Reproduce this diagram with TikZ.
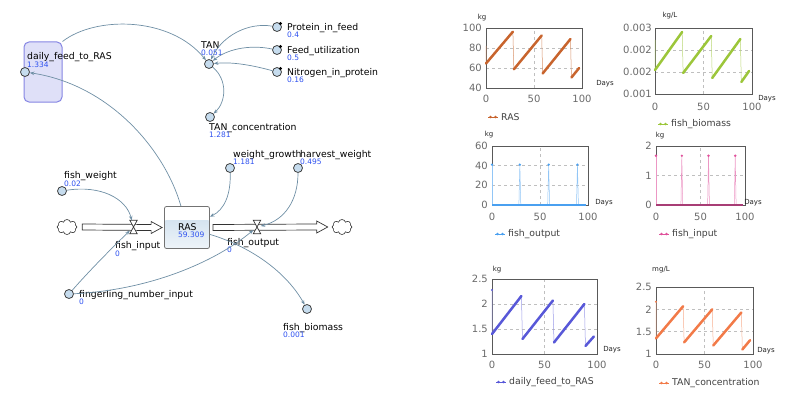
\documentclass[tikz,border=0pt]{standalone}
\usepackage{fontspec}
\setmainfont{DejaVu Sans}
\usetikzlibrary{arrows.meta,calc,shapes.symbols}

\definecolor{linkcol}{HTML}{6F8FA5}
\definecolor{valblue}{HTML}{2F52F0}
\definecolor{varfill}{HTML}{C6DCEE}
\definecolor{boxfill}{HTML}{DFE0F8}
\definecolor{boxline}{HTML}{8585E3}
\definecolor{stocktop}{HTML}{C9DCEC}
\definecolor{stockbot}{HTML}{EEF4F9}
\definecolor{rascol}{HTML}{C8642D}
\definecolor{biocol}{HTML}{9CC63A}
\definecolor{outcol}{HTML}{4AA0F0}
\definecolor{incol}{HTML}{E0529C}
\definecolor{feedcol}{HTML}{5858D8}
\definecolor{tancol}{HTML}{F27A48}
\definecolor{ticktxt}{HTML}{6A6A6A}

\newcommand{\val}[1]{{\color{valblue}\fontsize{7.5}{7.3}\selectfont #1}}

\begin{document}
\begin{tikzpicture}[x=1pt,y=-1pt,font=\fontsize{9.3}{11}\selectfont,
  var/.style={circle,draw=black!75,fill=varfill,line width=0.8pt,minimum size=9pt,inner sep=0pt},
  vlabel/.style={anchor=north west,align=left,inner sep=0pt,
    font={\fontsize{9.3}{7.3}\selectfont\lineskiplimit=-10pt}},
  link/.style={linkcol,line width=0.7pt,-{Stealth[length=4.5pt,width=3.5pt]}},
  valve/.style={minimum width=7pt,minimum height=13pt,inner sep=0pt},
  pipe/.style={draw=black!80,fill=white,line width=0.7pt},
  cloudy/.style={cloud,cloud puffs=8,cloud ignores aspect,draw=black!80,line width=0.6pt,
    minimum width=20pt,minimum height=15pt,inner sep=0pt},
  grid/.style={black!25,dashed,line width=0.5pt},
  frame/.style={black!65,line width=0.8pt},
  tick/.style={ticktxt,font=\fontsize{10}{10}\selectfont,inner sep=0pt},
  unit/.style={black!85,font=\fontsize{7}{7}\selectfont,inner sep=0pt},
  legend/.style={black!75,font=\fontsize{9.3}{9}\selectfont,anchor=west,inner sep=0pt},
  rise/.style={line width=2.5pt,line cap=round},
  drop/.style={line width=0.5pt}]
  \useasboundingbox (0,0) rectangle (800,396);
  % Stock and flow model on the left, the six result charts on the right.
  % Units are pixels of the 800x396 layout, y grows downwards.

  % container round daily_feed_to_RAS
  \node[draw=boxline,fill=boxfill,rounded corners=5pt,line width=1pt,
    minimum width=38pt,minimum height=60pt] (dfrbox) at (43,72) {};

  % variables
  \node[var] (dfr) at (25,72) {};
  \node[var] (tan) at (209,64) {};
  \node[var] (pif) at (277,27) {};
  \node[var] (fu) at (277,50) {};
  \node[var] (nip) at (277,72) {};
  \node[var] (tanc) at (210,117) {};
  \node[var] (wg) at (230,168) {};
  \node[var] (hw) at (298,168) {};
  \node[var] (fw) at (62,191) {};
  \node[var] (fni) at (69,294) {};
  \node[var] (fb) at (307,309) {};
  \foreach \c in {pif,fu,nip} {
    \fill (\c.north east) circle (1.7pt);
  }

  \node[vlabel] (dfrL) at (27,52.5) {daily\_feed\_to\_RAS\\\val{1.334}};
  \node[vlabel] (tanL) at (201,41.5) {TAN\\\val{0.051}};
  \node[vlabel] (pifL) at (287,23) {Protein\_in\_feed\\\val{0.4}};
  \node[vlabel] (fuL) at (287,46) {Feed\_utilization\\\val{0.5}};
  \node[vlabel] (nipL) at (287,68) {Nitrogen\_in\_protein\\\val{0.16}};
  \node[vlabel] (tancL) at (209,123) {TAN\_concentration\\\val{1.281}};
  \node[vlabel] (wgL) at (233,150) {weight\_growth\\\val{1.181}};
  \node[vlabel] (hwL) at (300,150) {harvest\_weight\\\val{0.495}};
  \node[vlabel] (fwL) at (64,171.5) {fish\_weight\\\val{0.02}};
  \node[vlabel] (fniL) at (79,290) {fingerling\_number\_input\\\val{0}};
  \node[vlabel] (fbL) at (283,323) {fish\_biomass\\\val{0.001}};

  % stock, clouds and the two flows
  \node[draw=black!55,rounded corners=2pt,line width=0.8pt,minimum width=45pt,
    minimum height=42pt,inner sep=0pt,
    path picture={\shade[top color=stocktop,bottom color=stockbot]
      ([yshift=7.5pt]path picture bounding box.west)
      rectangle (path picture bounding box.south east);}] (ras) at (187,227.5) {};
  \node[vlabel] (rasL) at (178,223) {RAS\\\val{59.309}};
  \node[cloudy] (cl) at (67,227) {};
  \node[cloudy] (cr) at (342,227) {};
  \node[valve] (fiv) at (133.5,227) {};
  \node[valve] (fov) at (257,227) {};

  \draw[pipe] ($(cl.east)+(5,-3)$) -- ($(ras.west)+(-13,-3)$) -- ($(ras.west)+(-13,-6)$)
    -- ($(ras.west)+(-2,0)$) -- ($(ras.west)+(-13,6)$) -- ($(ras.west)+(-13,3)$)
    -- ($(cl.east)+(5,3)$) -- cycle;
  \draw[pipe] ($(ras.east)+(3,-3)$) -- ($(cr.west)+(-15,-3)$) -- ($(cr.west)+(-15,-6)$)
    -- ($(cr.west)+(-4,0)$) -- ($(cr.west)+(-15,6)$) -- ($(cr.west)+(-15,3)$)
    -- ($(ras.east)+(3,3)$) -- cycle;
  \foreach \v in {fiv,fov} {
    \draw[pipe] (\v.north west) -- (\v.north east) -- (\v.south west) -- (\v.south east) -- cycle;
  }
  \node[vlabel] (fivL) at (115,241.5) {fish\_input\\\val{0}};
  \node[vlabel] (fovL) at (227,238) {fish\_output\\\val{0}};

  % links
  \draw[link] (dfrbox.north east) .. controls (95,16) and (170,16) .. (tan);
  \draw[link] (pif) .. controls (248,22) and (222,36) .. (tan);
  \draw[link] (fu) .. controls (248,44) and (226,50) .. (tan);
  \draw[link] (nip) .. controls (248,64) and (230,62) .. (tan);
  \draw[link] (tan) .. controls (228,80) and (226,102) .. (tanc);
  \draw[link] (ras) .. controls (165,150) and (110,85) .. (dfr);
  \draw[link] (fw) .. controls (100,185) and (126,198) .. (fiv);
  \draw[link] (wg) .. controls (231,195) and (224,210) .. (ras);
  \draw[link] (hw) .. controls (298,200) and (285,220) .. (fov);
  \draw[link] (fni) .. controls (90,270) and (112,248) .. (fiv);
  \draw[link] (fni) .. controls (150,290) and (215,262) .. (fov);
  \draw[link] (ras) .. controls (255,248) and (288,275) .. (fb);

  % chart: RAS (kg)
  \begin{scope}[shift={(486,88)},x=0.96pt,y=1pt]
    \draw[grid] (50,0) -- (50,60);
    \foreach \v in {20,40} \draw[grid] (0,\v) -- (100,\v);
    \draw[frame] (0,0) rectangle (100,60);
    \foreach \t in {0,50,100} \node[tick] (ras-x\t) at ([yshift=-11pt]\t,0) {\t};
    \foreach \v/\l in {0/40,20/60,40/80,60/100}
      \node[tick,anchor=east] (ras-y\l) at ([xshift=-4pt]0,\v) {\l};
    \draw[rascol!70,drop] (0,42) -- (0,24.5) (28,56.3) -- (29,18.7) (58,52.5) -- (59,14.5)
      (88,49) -- (89,10.5);
    \draw[rascol,rise] (0,24.5) -- (28,56.3) (29,18.7) -- (58,52.5) (59,14.5) -- (88,49)
      (89,10.5) -- (97,20);
  \end{scope}

  % chart: fish_biomass (kg/L)
  \begin{scope}[shift={(655,94)},x=0.97pt,y=33pt]
    \draw[grid] (50,0) -- (50,2);
    \foreach \v in {0.667,1.333} \draw[grid] (0,\v) -- (100,\v);
    \draw[frame] (0,0) rectangle (100,2);
    \foreach \t in {0,50,100} \node[tick] (bio-x\t) at ([yshift=-13pt]\t,0) {\t};
    \foreach \v/\l [count=\i] in {0/0.001,0.667/0.002,1.333/0.002,2/0.003}
      \node[tick,anchor=east] (bio-y\i) at ([xshift=-3pt]0,\v) {\l};
    \draw[biocol!70,drop] (0,1.64) -- (0,0.727) (28,1.879) -- (29,0.636) (58,1.758) -- (59,0.485)
      (88,1.667) -- (89,0.364);
    \draw[biocol,rise] (0,0.727) -- (28,1.879) (29,0.636) -- (58,1.758) (59,0.485) -- (88,1.667)
      (89,0.364) -- (97,0.697);
  \end{scope}

  % chart: fish_output (kg)
  \begin{scope}[shift={(492,205)},x=0.96pt,y=0.983pt]
    \draw[grid] (50,0) -- (50,60);
    \foreach \v in {20,40} \draw[grid] (0,\v) -- (100,\v);
    \draw[frame] (0,0) rectangle (100,60);
    \foreach \t in {0,50,100} \node[tick] (out-x\t) at ([yshift=-12pt]\t,0) {\t};
    \foreach \v in {0,20,40,60}
      \node[tick,anchor=east] (out-y\v) at ([xshift=-4pt]0,\v) {\v};
    \draw[outcol!60,drop] (0,0) -- (0,41);
    \foreach \t in {29,59,89} \draw[outcol!60,drop] (\t-1,0) -- (\t,41) -- (\t+1,0);
    \foreach \t in {0,29,59,89} \fill[outcol] (\t,41) circle (1.3pt);
    \draw[outcol,line width=1.8pt] (0,0) -- (98,0);
  \end{scope}

  % chart: fish_input (kg)
  \begin{scope}[shift={(656,205)},x=0.89pt,y=29.5pt]
    \draw[grid] (50,0) -- (50,2);
    \draw[grid] (0,1) -- (100,1);
    \draw[frame] (0,0) rectangle (100,2);
    \foreach \t in {0,50,100} \node[tick] (in-x\t) at ([yshift=-12pt]\t,0) {\t};
    \foreach \v in {0,1,2}
      \node[tick,anchor=east] (in-y\v) at ([xshift=-4pt]0,\v) {\v};
    \draw[incol!60,drop] (0,0) -- (0,1.67);
    \foreach \t in {29,59,89} \draw[incol!60,drop] (\t-1,0) -- (\t,1.67) -- (\t+1,0);
    \foreach \t in {0,29,59,89} \fill[incol] (\t,1.67) circle (1.3pt);
    \draw[incol!75!black,line width=1.8pt] (0,0) -- (98,0);
  \end{scope}

  % chart: daily_feed_to_RAS (kg)
  \begin{scope}[shift={(492,354)},x=1.05pt,y=50pt]
    \draw[grid] (50,0) -- (50,1.5);
    \foreach \v in {0.5,1} \draw[grid] (0,\v) -- (100,\v);
    \draw[frame] (0,0) rectangle (100,1.5);
    \foreach \t in {0,50,100} \node[tick] (feed-x\t) at ([yshift=-11pt]\t,0) {\t};
    \foreach \v/\l [count=\i] in {0/1,0.5/1.5,1/2,1.5/2.5}
      \node[tick,anchor=east] (feed-y\i) at ([xshift=-4pt]0,\v) {\l};
    \fill[feedcol] (0,1.28) circle (1.2pt);
    \draw[feedcol!60,drop] (0,1.28) -- (0,0.4) (28,1.16) -- (29,0.3) (58,1.07) -- (59,0.23)
      (88,1.0) -- (89,0.16);
    \draw[feedcol,rise] (0,0.4) -- (28,1.16) (29,0.3) -- (58,1.07) (59,0.23) -- (88,1.0)
      (89,0.16) -- (97,0.35);
  \end{scope}

  % chart: TAN_concentration (mg/L)
  \begin{scope}[shift={(656,354)},x=0.97pt,y=44.67pt]
    \draw[grid] (50,0) -- (50,1.5);
    \foreach \v in {0.5,1} \draw[grid] (0,\v) -- (100,\v);
    \draw[frame] (0,0) rectangle (100,1.5);
    \foreach \t in {0,50,100} \node[tick] (tanc-x\t) at ([yshift=-11pt]\t,0) {\t};
    \foreach \v/\l [count=\i] in {0/1,0.5/1.5,1/2,1.5/2.5}
      \node[tick,anchor=east] (tanc-y\i) at ([xshift=-4pt]0,\v) {\l};
    \fill[tancol] (0,1.17) circle (1.2pt);
    \draw[tancol!60,drop] (0,1.17) -- (0,0.35) (28,1.07) -- (29,0.26) (58,1.0) -- (59,0.19)
      (88,0.93) -- (89,0.10);
    \draw[tancol,rise] (0,0.35) -- (28,1.07) (29,0.26) -- (58,1.0) (59,0.19) -- (88,0.93)
      (89,0.10) -- (97,0.31);
  \end{scope}

  % axis units and time labels
  \foreach \ux/\uy/\u/\dx/\dy [count=\i] in {482/18/kg/605/84, 670/16/kg\slash L/767/99,
      489/135/kg/604/203, 660/136/kg/753/203, 497/270/kg/612/350, 661/270/mg\slash L/766/351} {
    \node[unit] (unit\i) at (\ux,\uy) {\u};
    \node[unit] (days\i) at (\dx,\dy) {Days};
  }

  % legends
  \foreach \mx/\my/\col/\lbl in {488/117/rascol/RAS, 658/124/biocol/fish\_biomass,
      495/234/outcol/fish\_output, 659/234/incol/fish\_input,
      496/382/feedcol/daily\_feed\_to\_RAS, 659/383/tancol/TAN\_concentration} {
    \draw[\col,line width=0.8pt] (\mx,\my) -- ++(10,0);
    \fill[\col] (\mx+2.5,\my) circle (1.4pt) (\mx+7.5,\my) circle (1.4pt);
    \node[legend] (leg-\col) at (\mx+13,\my) {\lbl};
  }
\end{tikzpicture}
\end{document}
